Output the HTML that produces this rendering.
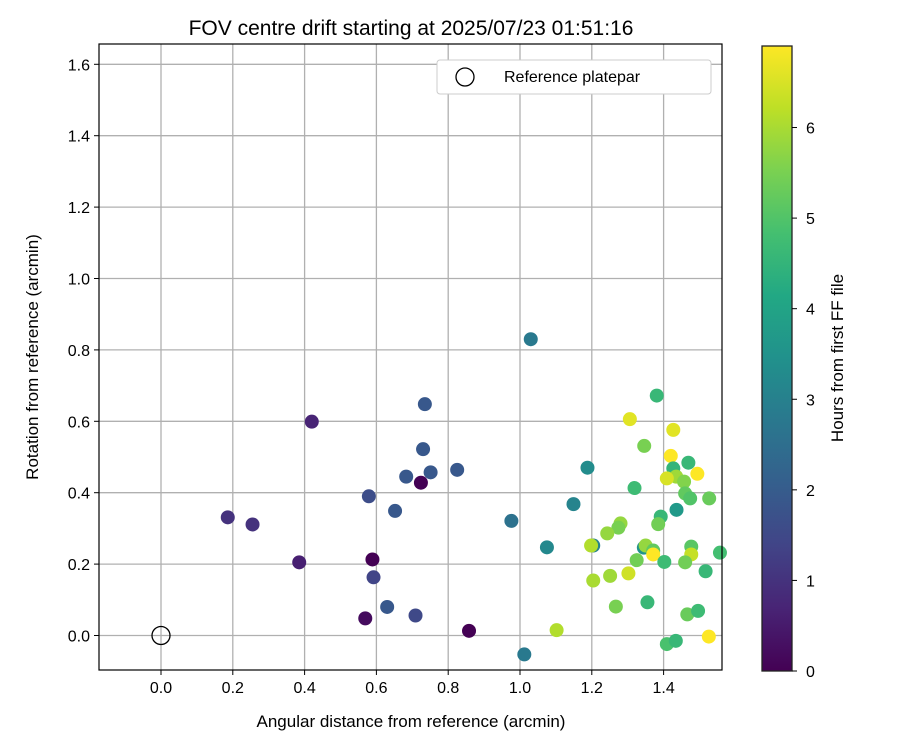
<!DOCTYPE html>
<html><head><meta charset="utf-8"><style>
body{margin:0;background:#fff;}
svg text{font-family:"Liberation Sans","DejaVu Sans",sans-serif;fill:#000;}
</style></head><body>
<svg id="chart" width="900" height="750" xmlns="http://www.w3.org/2000/svg">
<defs><linearGradient id="vir" x1="0" y1="1" x2="0" y2="0">
<stop offset="0" stop-color="#440154"/><stop offset="0.1" stop-color="#482475"/><stop offset="0.2" stop-color="#414487"/><stop offset="0.3" stop-color="#355f8d"/><stop offset="0.4" stop-color="#2a788e"/><stop offset="0.5" stop-color="#21918c"/><stop offset="0.6" stop-color="#22a884"/><stop offset="0.7" stop-color="#44bf70"/><stop offset="0.8" stop-color="#7ad151"/><stop offset="0.9" stop-color="#bddf26"/><stop offset="1" stop-color="#fde725"/></linearGradient></defs>
<text x="411" y="35" font-size="21" text-anchor="middle">FOV centre drift starting at 2025/07/23 01:51:16</text>
<g id="grid"></g><g id="pts"></g><g id="axes"></g>
<text x="411" y="727" font-size="17" text-anchor="middle">Angular distance from reference (arcmin)</text>
<text transform="translate(38,357) rotate(-90)" font-size="17" text-anchor="middle">Rotation from reference (arcmin)</text>
<g>
<rect x="437" y="60" width="274" height="34" rx="3" fill="#fff" stroke="#ccc"/>
<circle cx="465" cy="77" r="9" fill="none" stroke="#000" stroke-width="1.3"/>
<text x="504" y="82" font-size="16">Reference platepar</text>
</g>
<g>
<rect x="762" y="46" width="30" height="625" fill="url(#vir)" stroke="#222" stroke-width="1.3"/>
<g id="cbticks"></g>
<text transform="translate(843,358) rotate(-90)" font-size="17" text-anchor="middle">Hours from first FF file</text>
</g>
</svg>
<script>
const xs=[1.030,0.735,0.420,0.730,0.683,0.751,0.825,0.724,0.579,0.652,0.186,0.255,0.976,1.075,0.385,0.589,0.592,0.630,0.569,0.709,0.858,1.102,1.012,
1.381,1.306,1.427,1.346,1.420,1.469,1.427,1.494,1.435,1.409,1.457,1.319,1.460,1.474,1.527,1.436,1.188,1.149,1.392,1.385,1.280,1.274,1.243,1.204,1.198,1.345,1.350,1.371,1.371,1.325,1.402,1.477,1.477,1.460,1.517,1.557,1.302,1.251,1.204,1.267,1.355,1.466,1.496,1.526,1.409,1.434];
const ys=[0.830,0.648,0.599,0.522,0.445,0.457,0.464,0.428,0.390,0.349,0.331,0.311,0.321,0.247,0.205,0.213,0.163,0.080,0.048,0.056,0.013,0.015,-0.053,
0.672,0.606,0.576,0.531,0.503,0.484,0.468,0.453,0.445,0.440,0.431,0.413,0.398,0.384,0.384,0.352,0.470,0.368,0.333,0.312,0.314,0.302,0.286,0.252,0.252,0.246,0.252,0.238,0.227,0.211,0.206,0.249,0.227,0.205,0.180,0.232,0.174,0.167,0.154,0.081,0.093,0.059,0.069,-0.003,-0.024,-0.015];
const hours=[2.8,1.9,0.7,1.9,1.9,1.9,1.9,0.0,1.6,1.9,1.0,1.0,2.6,3.2,0.6,0.0,1.4,1.9,0.2,1.5,0.0,6.1,2.8,
4.6,6.6,6.6,5.5,6.9,4.6,4.5,6.9,5.9,6.5,5.6,4.7,5.2,5.0,5.3,3.7,3.3,3.1,4.6,5.4,5.8,5.5,5.8,3.0,6.1,3.5,5.8,5.2,6.9,5.4,4.7,5.1,6.3,5.4,4.6,4.8,6.4,5.9,6.0,5.5,4.6,5.3,4.7,6.9,4.9,4.6];
const xTicks=[0.0,0.2,0.4,0.6,0.8,1.0,1.2,1.4];
const yTicks=[0.0,0.2,0.4,0.6,0.8,1.0,1.2,1.4,1.6];
const cbTicks=[0,1,2,3,4,5,6];
const L=99,R=722,T=44,B=670;
const X=v=>161+v*359, Y=v=>635.5-v*357;
const HMAX=6.9, CB=h=>671-h/HMAX*625;
const vir=[[68,1,84],[72,36,117],[65,68,135],[53,95,141],[42,120,142],[33,145,140],[34,168,132],[68,191,112],[122,209,81],[189,223,38],[253,231,37]];
function col(h){let t=Math.max(0,Math.min(1,h/HMAX))*(vir.length-1);let i=Math.min(Math.floor(t),vir.length-2),f=t-i;
return 'rgb('+vir[i].map((c,k)=>Math.round(c+(vir[i+1][k]-c)*f)).join(',')+')';}
const NS='http://www.w3.org/2000/svg';
function mk(tag,a,p){const e=document.createElementNS(NS,tag);for(const k in a)e.setAttribute(k,a[k]);p.appendChild(e);return e;}
const g=document.getElementById('grid'),ax=document.getElementById('axes'),pts=document.getElementById('pts'),cb=document.getElementById('cbticks');
xTicks.forEach(v=>{const x=X(v);
const l=mk('line',{x1:x,x2:x,y1:T,y2:B,stroke:'#b0b0b0','stroke-width':1.3},g);


mk('line',{x1:x,x2:x,y1:B,y2:B+5,stroke:'#000'},ax);
const t=mk('text',{x:x,y:B+23,'font-size':16,'text-anchor':'middle'},ax);t.textContent=v.toFixed(1);

});
yTicks.forEach(v=>{const y=Y(v);
const l=mk('line',{x1:L,x2:R,y1:y,y2:y,stroke:'#b0b0b0','stroke-width':1.3},g);


mk('line',{x1:L-5,x2:L,y1:y,y2:y,stroke:'#000'},ax);
const t=mk('text',{x:L-9,y:y+6,'font-size':16,'text-anchor':'end'},ax);t.textContent=v.toFixed(1);

});
mk('rect',{x:L,y:T,width:R-L,height:B-T,fill:'none',stroke:'#000','stroke-width':1.2},ax);
const ref=mk('circle',{cx:X(0),cy:Y(0),r:9,fill:'none',stroke:'#000','stroke-width':1.3},pts);


xs.forEach((v,i)=>{const c=mk('circle',{cx:X(v),cy:Y(ys[i]),r:7,fill:col(hours[i])},pts);

});
cbTicks.forEach(h=>{const y=CB(h);
mk('line',{x1:792,x2:797,y1:y,y2:y,stroke:'#000'},cb);
const t=mk('text',{x:806,y:y+6,'font-size':16},cb);t.textContent=h;

});
</script>
</body></html>
